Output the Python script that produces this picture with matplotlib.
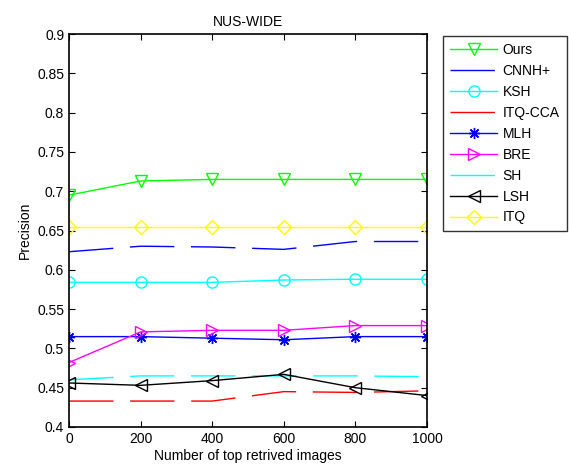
import matplotlib
matplotlib.use("Agg")
import matplotlib.pyplot as plt

x = [0, 200, 400, 600, 800, 1000]
ours = [0.695, 0.713, 0.715, 0.715, 0.715, 0.715]
cnnh = [0.623, 0.630, 0.629, 0.626, 0.636, 0.636]
ksh = [0.584, 0.584, 0.584, 0.587, 0.588, 0.588]
itqcca = [0.433, 0.433, 0.433, 0.445, 0.444, 0.446]
mlh = [0.515, 0.515, 0.513, 0.511, 0.515, 0.515]
bre = [0.482, 0.521, 0.523, 0.523, 0.529, 0.529]
sh = [0.460, 0.465, 0.465, 0.465, 0.465, 0.464]
lsh = [0.456, 0.453, 0.459, 0.467, 0.450, 0.440]
itq = [0.654, 0.654, 0.654, 0.654, 0.654, 0.654]

plt.rcParams['font.family'] = ['Liberation Sans', 'DejaVu Sans']
fig = plt.figure(figsize=(5.69, 4.70), dpi=100)
ax = fig.add_axes([69/569, 1 - 427/470, 358/569, 393/470])

dash = (0, (32, 12))
ms = 8
ax.plot(x, ours, color='#00ff00', marker='v', mfc='none', ms=ms, lw=1, label='Ours')
ax.plot(x, cnnh, color='#0000ff', ls=dash, lw=1, label='CNNH+')
ax.plot(x, ksh, color='#00ffff', marker='o', mfc='none', ms=ms, lw=1, label='KSH')
ax.plot(x, itqcca, color='#ff0000', ls=dash, lw=1, label='ITQ-CCA')
ax.plot(x, mlh, color='#0000ff', marker=(8, 2, 0), ms=ms, mew=1, lw=1, label='MLH')
ax.plot(x, bre, color='#ff00ff', marker='>', mfc='none', ms=ms + 1, lw=1, label='BRE')
ax.plot(x, sh, color='#00ffff', ls=dash, lw=1, label='SH')
ax.plot(x, lsh, color='#000000', marker='<', mfc='none', ms=ms + 1, lw=1, label='LSH')
ax.plot(x, itq, color='#ffff00', marker='D', mfc='none', ms=ms - 1, lw=1, label='ITQ')

ax.set_xlim(0, 1000)
ax.set_ylim(0.4, 0.9)
ax.set_xticks([0, 200, 400, 600, 800, 1000])
ax.set_yticks([0.4, 0.45, 0.5, 0.55, 0.6, 0.65, 0.7, 0.75, 0.8, 0.85, 0.9])
ax.set_yticklabels(['0.4', '0.45', '0.5', '0.55', '0.6', '0.65', '0.7', '0.75', '0.8', '0.85', '0.9'])
ax.tick_params(direction='in', top=True, right=True, labelsize=10, length=4)
for s in ax.spines.values():
    s.set_linewidth(1.2)
ax.set_xlabel('Number of top retrived images', fontsize=10, labelpad=2)
ax.set_ylabel('Precision', fontsize=10)
ax.set_title('NUS-WIDE', fontsize=10)

leg = fig.legend(handles=ax.get_lines(), loc='upper left',
                 bbox_to_anchor=(443/569, 1 - 36/470), bbox_transform=fig.transFigure,
                 fontsize=10, frameon=True, fancybox=False, edgecolor='black',
                 handlelength=3.4, borderaxespad=0, borderpad=0.5,
                 labelspacing=0.5, handletextpad=0.4)
leg.get_frame().set_linewidth(1.0)

fig.savefig('out.png', dpi=100)
